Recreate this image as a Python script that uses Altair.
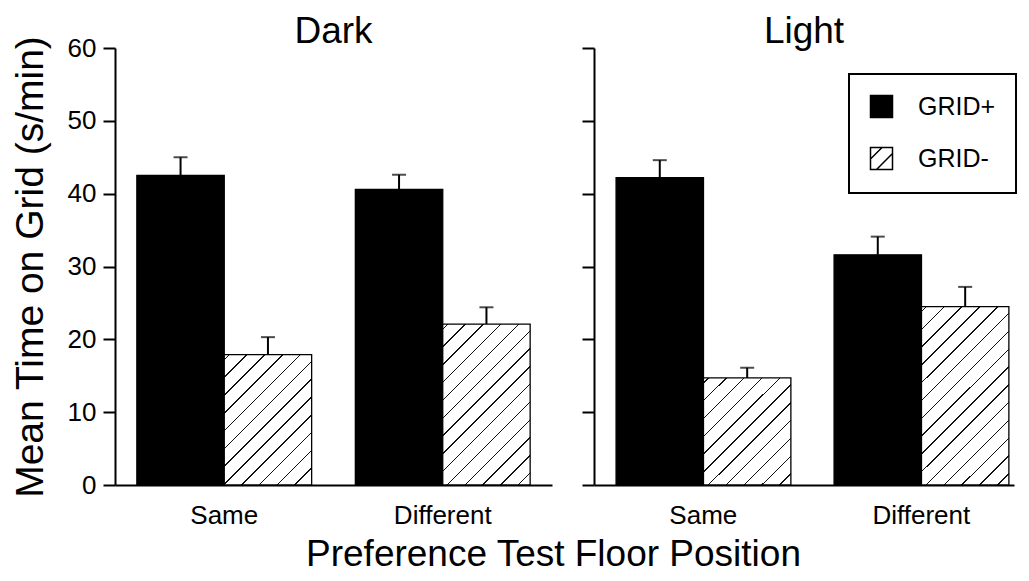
import altair as alt
import pandas as pd

# ---- data ----
panels = ["Dark", "Dark", "Dark", "Dark", "Light", "Light", "Light", "Light"]
positions = ["Same", "Same", "Different", "Different",
             "Same", "Same", "Different", "Different"]
groups = ["GRID+", "GRID-", "GRID+", "GRID-", "GRID+", "GRID-", "GRID+", "GRID-"]
means = [42.5, 17.9, 40.6, 22.1, 42.2, 14.7, 31.6, 24.5]
uppers = [45.0, 20.3, 42.6, 24.4, 44.6, 16.1, 34.1, 27.2]

position_order = ["Same", "Different"]
group_order = ["GRID+", "GRID-"]
y_ticks = [0, 10, 20, 30, 40, 50, 60]

df = pd.DataFrame(dict(panel=panels, position=positions, group=groups,
                       mean=means, upper=uppers))

FONT = "Liberation Sans"
H = 437
WL = 437
WR = 420
GAP = 42
YMAX = 60
P_INNER = 0.2
HATCH_PATH = "M-1,-1H1V1H-1Z M-1,0.05L0.05,-1 M-0.45,1L1,-0.45"


def hatch_fill(w, h, period=17.8, lw=1.5, phase=5.0):
    """45-degree hatch as a hard-stop linear gradient in bbox units."""
    tot = w + h
    stops = [{"offset": 0, "color": "white"}]
    c = phase
    while c < tot:
        a = max(0.0, (c - lw / 2) / tot)
        b = min(1.0, (c + lw / 2) / tot)
        stops += [{"offset": a, "color": "white"}, {"offset": a, "color": "#111111"},
                  {"offset": b, "color": "#111111"}, {"offset": b, "color": "white"}]
        c += period
    stops.append({"offset": 1, "color": "white"})
    k = tot / (w * w + h * h)
    return {"gradient": "linear", "x1": 0, "y1": 0, "x2": w * k, "y2": h * k,
            "stops": stops}


def panel_chart(name, width, p_outer, align, first, legend):
    base = alt.Chart(df).transform_filter(alt.datum.panel == name)
    xaxis_kw = dict(labelAngle=0, ticks=False, tickSize=0,
                    labelPadding=17, labelFontSize=26, labelFont=FONT,
                    labelColor="black", domainWidth=2, domainColor="black")
    if first:
        xaxis_kw.update(title="Preference Test Floor Position", titleFontSize=37,
                        titleFont=FONT, titleFontWeight="normal", titleColor="black",
                        titleX=438, titleY=80, titleAlign="center",
                        titleBaseline="alphabetic")
    else:
        xaxis_kw.update(title=None)
    x = alt.X("position:N", sort=position_order,
              scale=alt.Scale(domain=position_order, paddingInner=P_INNER,
                              paddingOuter=p_outer, align=align),
              axis=alt.Axis(**xaxis_kw))
    xo = alt.XOffset("group:N", sort=group_order,
                     scale=alt.Scale(domain=group_order, paddingInner=0, paddingOuter=0))
    yaxis = alt.Axis(values=y_ticks, grid=False, labelOpacity=1 if first else 0,
                     title="Mean Time on Grid (s/min)" if first else None,
                     titleFontSize=39, titleFont=FONT, titleFontWeight="normal",
                     titleColor="black", titlePadding=17,
                     labelFontSize=26, labelFont=FONT, labelColor="black", labelPadding=7,
                     tickSize=12, tickWidth=2, tickColor="black",
                     domainWidth=2, domainColor="black")
    y = alt.Y("mean:Q", scale=alt.Scale(domain=[0, YMAX], nice=False), axis=yaxis)

    step = width / (len(position_order) - P_INNER + 2 * p_outer)
    w = step * (1 - P_INNER) / len(group_order)

    layers = []
    if legend:
        leg = alt.Legend(title=None, orient="none", legendX=WL + GAP + 255, legendY=26,
                         padding=20, rowPadding=23, labelOffset=24,
                         labelFontSize=25, labelFont=FONT, labelColor="black",
                         symbolSize=484, symbolStrokeColor="black",
                         symbolStrokeWidth=1.5, symbolOpacity=1,
                         strokeColor="black")
        layers.append(
            base.mark_point(filled=False, stroke="black", opacity=0).encode(
                x=x, xOffset=xo, y=y,
                fill=alt.Fill("group:N", sort=group_order,
                              scale=alt.Scale(domain=group_order, range=["black", "white"]),
                              legend=leg),
                stroke=alt.Stroke("group:N", sort=group_order,
                                  scale=alt.Scale(domain=group_order, range=["black", "black"]),
                                  legend=leg),
                shape=alt.Shape("group:N", sort=group_order,
                                scale=alt.Scale(domain=group_order,
                                                range=["square", HATCH_PATH]),
                                legend=leg),
            ))
    layers.append(
        base.transform_filter(alt.datum.group == "GRID+")
        .mark_bar(fill="black", stroke="black", strokeWidth=1.3)
        .encode(x=x, xOffset=xo, y=y))
    sub = df[(df.panel == name) & (df.group == "GRID-")]
    for pos in position_order:
        v = float(sub[sub.position == pos]["mean"].iloc[0])
        h = v / YMAX * H
        layers.append(
            base.transform_filter((alt.datum.group == "GRID-") & (alt.datum.position == pos))
            .mark_bar(fill=hatch_fill(w, h), stroke="black", strokeWidth=1.3)
            .encode(x=x, xOffset=xo, y=y))
    layers.append(
        base.mark_rule(color="black", strokeWidth=2).encode(
            x=x, xOffset=xo, y=y, y2="upper:Q"))
    layers.append(
        base.mark_tick(color="black", size=14, thickness=2).encode(
            x=x, xOffset=xo, y=alt.Y("upper:Q")))

    return alt.layer(*layers).properties(
        width=width, height=H,
        title=alt.TitleParams(name, fontSize=37, font=FONT, fontWeight="normal",
                              color="black", frame="group", anchor="middle", offset=-16))


left = panel_chart("Dark", WL, 0.1, 0.5, True, False)
right = panel_chart("Light", WR, 0.0633, 0.80, False, True)

chart = alt.hconcat(left, right, spacing=GAP, bounds="flush").properties(
    padding={"left": 3, "top": 5, "right": 0, "bottom": 1},
).configure_view(stroke=None).configure_legend(strokeWidth=2, cornerRadius=0)

chart.save("out.html", embed_options={"renderer": "svg", "actions": False})
